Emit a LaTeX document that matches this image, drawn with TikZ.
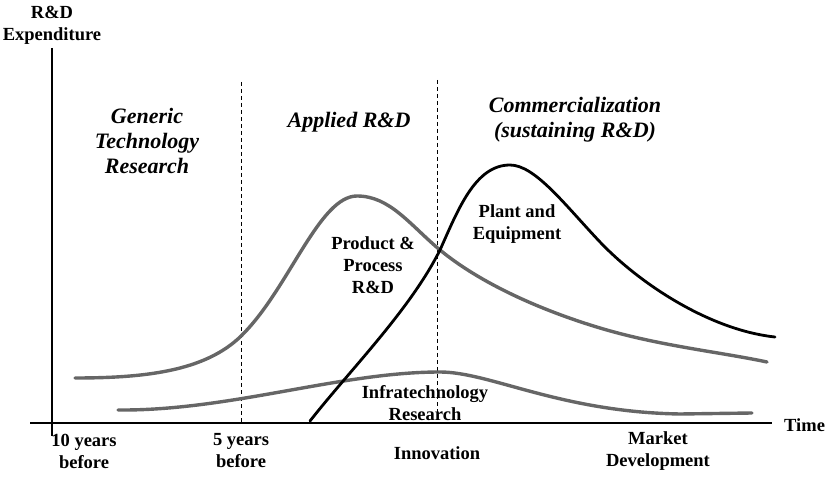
\documentclass[tikz,border=0pt]{standalone}
\usepackage{fontspec}
\setmainfont{Liberation Serif}
\usepackage{xcolor}

\begin{document}
\begin{tikzpicture}[x=1pt, y=-1pt,
			every node/.style={align=center, inner sep=0pt},
			lbl/.style={font=\fontsize{18.5}{22}\selectfont\bfseries},
			phase/.style={font=\fontsize{22}{25}\selectfont\bfseries\itshape},
			axisline/.style={line width=1.8pt},
			divider/.style={line width=0.9pt, dash pattern=on 4pt off 3pt},
			graycurve/.style={line width=3.4pt, color=black!60, line cap=round},
			blackcurve/.style={line width=2.8pt, line cap=round}]
			
			\useasboundingbox (0,0) rectangle (828,481);
			
			% axes
			\coordinate (ytop) at (52,48);
			\coordinate (ybot) at (52,436);
			\coordinate (xleft) at (30,423);
			\coordinate (xright) at (772,423);
			\draw[axisline] (ytop) -- (ybot);
			\draw[axisline] (xleft) -- (xright);
			\node[lbl] (ylabel) at (52,25) {R\&D\\Expenditure};
			\node[lbl, anchor=west] (time) at (784,425) {Time};
			
			% phase dividers
			\coordinate (d1top) at (241,82);
			\coordinate (d1bot) at (241,423);
			\coordinate (d2top) at (437,80);
			\coordinate (d2bot) at (437,423);
			\draw[divider] (d1top) -- (d1bot);
			\draw[divider] (d2top) -- (d2bot);
			
			% phases
			\node[phase] (generic) at (147,141) {Generic\\Technology\\Research};
			\node[phase] (applied) at (349,122) {Applied R\&D};
			\node[phase] (commercial) at (575,120) {Commercialization\\(sustaining R\&D)};
			
			% curves
			\draw[graycurve] (75,378) .. controls (150,378) and (210,370) .. (245,332)
				.. controls (290,285) and (320,196) .. (357,196)
				.. controls (390,196) and (410,225) .. (440,250)
				.. controls (480,283) and (540,310) .. (600,328)
				.. controls (660,346) and (720,352) .. (767,362);
			\draw[graycurve] (118,410) .. controls (230,411) and (340,372) .. (440,372)
				.. controls (490,372) and (560,412) .. (680,414) -- (752,413);
			\draw[blackcurve] (310,421) .. controls (350,370) and (410,310) .. (440,250)
				.. controls (458,210) and (475,165) .. (510,165)
				.. controls (535,165) and (565,205) .. (600,242)
				.. controls (640,284) and (710,330) .. (775,337);
			
			\node[lbl] (prodproc) at (373,265) {Product \&\\Process\\R\&D};
			\node[lbl] (plant) at (517,224) {Plant and\\Equipment};
			\node[lbl] (infra) at (425,403) {Infratechnology\\Research};
			
			% time marks
			\node[lbl] (tenyrs) at (84,451) {10 years\\before};
			\node[lbl] (fiveyrs) at (241,451) {5 years\\before};
			\node[lbl] (innov) at (437,453) {Innovation};
			\node[lbl] (market) at (658,451) {Market\\Development};
		\end{tikzpicture}
\end{document}
